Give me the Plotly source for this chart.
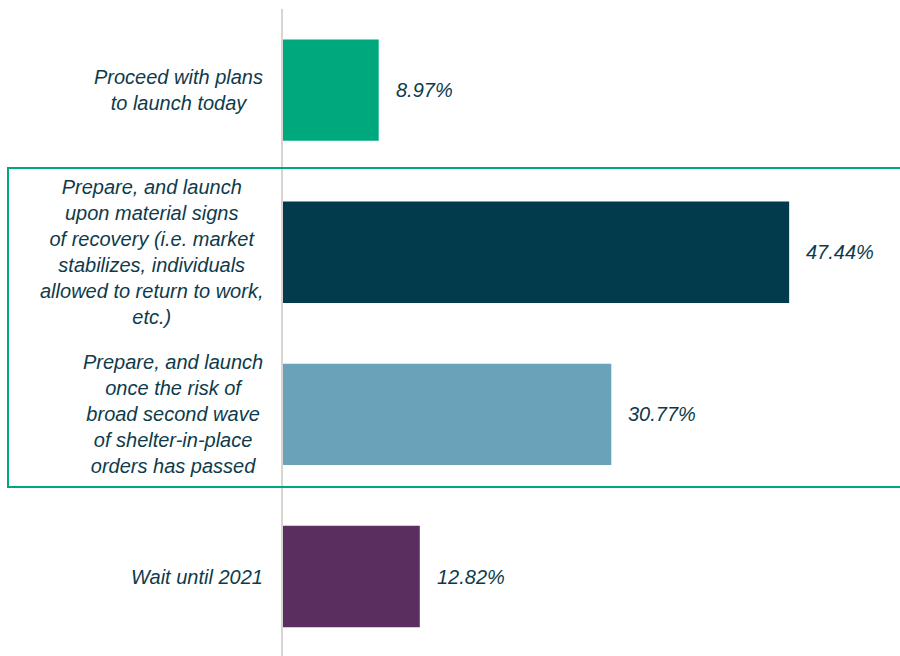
import plotly.graph_objects as go

# survey answers, top to bottom
categories = [
    "Proceed with plans<br>to launch today",
    "Prepare, and launch<br>upon material signs<br>of recovery (i.e. market<br>stabilizes, individuals<br>allowed to return to work,<br>etc.)",
    "Prepare, and launch<br>once the risk of<br>broad second wave<br>of shelter-in-place<br>orders has passed",
    "Wait until 2021",
]
shares = [8.97, 47.44, 30.77, 12.82]
bar_colors = ["#00A87E", "#023B4B", "#6AA3B9", "#5A2E5E"]

TEXT = "#0E3B4B"
FONT = "Liberation Sans, Arial, sans-serif"

fig = go.Figure()
fig.add_trace(
    go.Bar(
        x=shares,
        y=list(range(len(categories))),
        orientation="h",
        marker=dict(color=bar_colors, line=dict(width=0)),
        width=0.625,
        hoverinfo="skip",
    )
)

# category labels, centred lines, right-aligned block
for i, label in enumerate(categories):
    fig.add_annotation(
        x=0, y=i, xref="x", yref="y",
        text=f"<i>{label}</i>",
        showarrow=False,
        xanchor="right", yanchor="middle",
        align="center",
        xshift=-18,
        font=dict(family=FONT, size=20, color=TEXT),
    )

# value labels
for i, v in enumerate(shares):
    fig.add_annotation(
        x=v, y=i, xref="x", yref="y",
        text=f"<i>{v:.2f}%</i>",
        showarrow=False,
        xanchor="left", yanchor="middle",
        xshift=15,
        font=dict(family=FONT, size=20, color=TEXT),
    )

# highlight box around the two "prepare" answers
fig.add_shape(
    type="rect",
    xref="paper", yref="paper",
    x0=-0.4457, x1=1.01, y0=0.2612, y1=0.7543,
    line=dict(color="#00A87E", width=2),
    fillcolor="rgba(0,0,0,0)",
    layer="above",
)

fig.update_layout(
    width=900,
    height=656,
    paper_bgcolor="white",
    plot_bgcolor="white",
    margin=dict(l=283, r=0, t=9, b=0),
    showlegend=False,
    font=dict(family=FONT, color=TEXT),
)
fig.update_xaxes(range=[0, 57.83], visible=False, fixedrange=True)
fig.update_yaxes(
    range=[3.49, -0.5],
    showticklabels=False,
    showgrid=False,
    zeroline=False,
    showline=True,
    linecolor="#D9D4CF",
    linewidth=2,
    ticks="",
    fixedrange=True,
)

fig.write_html(
    "out.html",
    config={"displayModeBar": False},
    post_script="document.body.style.margin = '0';",
)
